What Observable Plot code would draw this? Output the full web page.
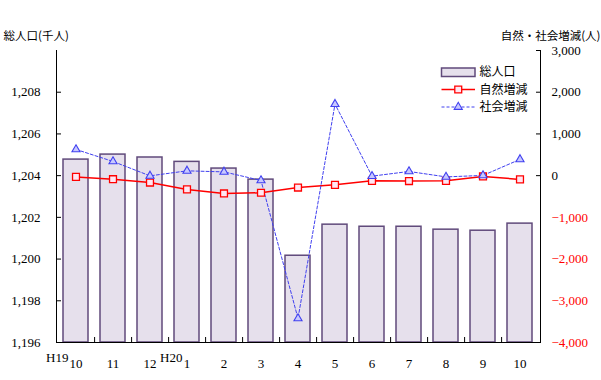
<!DOCTYPE html>
<html><head><meta charset="utf-8">
<script src="https://cdn.jsdelivr.net/npm/d3@7"></script>
<script src="https://cdn.jsdelivr.net/npm/@observablehq/plot@0.6"></script>
<style>body{margin:0;background:#fff} svg{display:block}</style>
</head><body><div id="chart"></div>
<script>
const months = ["10","11","12","1","2","3","4","5","6","7","8","9","10"];
const eras = ["H19","","","H20","","","","","","","","",""];
const totalPop = [1204.77,1205.01,1204.87,1204.66,1204.34,1203.81,1200.16,1201.65,1201.55,1201.55,1201.41,1201.36,1201.70];
const naturalChange = [-30,-85,-165,-330,-427,-410,-285,-220,-125,-130,-125,-20,-90];
const socialChange = [628,340,-5,115,90,-115,-3424,1715,-12,100,-30,5,390];
const leftTicks = [1196,1198,1200,1202,1204,1206,1208];
const rightTicks = [-4000,-3000,-2000,-1000,0,1000,2000,3000];
const leftTitle = "総人口(千人)";
const rightTitle = "自然・社会増減(人)";
const legendLabels = ["総人口","自然増減","社会増減"];

const idx = d3.range(months.length);
const y2 = d3.scaleLinear([-4000,3000],[1196,1210]);
const fmt = d3.format(",");
const jp = "'Noto Sans CJK JP', sans-serif";

const barFill = "#e6e0ec", barStroke = "#604a7b";
const natColor = "#ff0000", natFill = "#ffe6f2";
const socColor = "#4040f0", socFill = "#c8c8ff";
const triR = 3.0, sqR = 3.9;

const chart = Plot.plot({
  width: 601, height: 380,
  marginLeft: 56, marginRight: 61, marginTop: 50, marginBottom: 38,
  style: {fontFamily: "'Liberation Serif', 'Times New Roman', serif", fontSize: "13px", color: "#000", background: "#fff", overflow: "visible"},
  x: {type: "band", domain: idx, paddingInner: 0.32, paddingOuter: 0.16, axis: null},
  y: {domain: [1196, 1210], axis: null},
  marks: [
    Plot.barY(idx, {x: i => i, y1: 1196, y2: i => totalPop[i], fill: barFill, stroke: barStroke, strokeWidth: 1.5}),
    Plot.line(idx, {x: i => i, y: i => y2(naturalChange[i]), stroke: natColor, strokeWidth: 1.5}),
    Plot.line(idx, {x: i => i, y: i => y2(socialChange[i]), stroke: socColor, strokeWidth: 1, strokeDasharray: "3,2"}),
    Plot.dot(idx, {x: i => i, y: i => y2(naturalChange[i]), symbol: "square", r: sqR, stroke: natColor, fill: natFill, strokeWidth: 1.3}),
    Plot.dot(idx, {x: i => i, y: i => y2(socialChange[i]), symbol: "triangle", r: triR, stroke: socColor, fill: socFill, strokeWidth: 1.1}),
    // axis lines
    Plot.frame({anchor: "left", stroke: "#000"}),
    Plot.frame({anchor: "right", stroke: "#000"}),
    Plot.frame({anchor: "bottom", stroke: "#000"}),
    // left axis
    Plot.axisY(leftTicks, {anchor: "left", tickSize: -5, tickPadding: 21, tickFormat: fmt}),
    // right axis (non-negative black, negative red)
    Plot.axisY(rightTicks.filter(d => d >= 0), {anchor: "right", y: d => y2(d), tickSize: -5, tickPadding: 16, text: d => fmt(d)}),
    Plot.axisY(rightTicks.filter(d => d < 0), {anchor: "right", y: d => y2(d), tickSize: -5, tickPadding: 16, text: d => fmt(d), fill: natColor, stroke: null}),
    // x axis: labels at band centres, ticks at band boundaries
    Plot.axisX(idx, {anchor: "bottom", tickSize: 0, tickPadding: 16, tickFormat: i => months[i]}),
    Plot.axisX(idx.slice(0, -1), {anchor: "bottom", tickSize: -5, dx: 18.6, tickFormat: () => ""}),
    Plot.text(idx.filter(i => eras[i] && months[i].length === 2), {x: i => i, text: i => eras[i], frameAnchor: "bottom", lineAnchor: "bottom", textAnchor: "end", dx: -7.5, dy: 19}),
    Plot.text(idx.filter(i => eras[i] && months[i].length === 1), {x: i => i, text: i => eras[i], frameAnchor: "bottom", lineAnchor: "bottom", textAnchor: "end", dx: -4.5, dy: 19}),
    // axis titles
    Plot.text([leftTitle], {frameAnchor: "top-left", textAnchor: "start", lineAnchor: "bottom", dx: -53, dy: -11, fontFamily: jp, fontSize: 11.5}),
    Plot.text([rightTitle], {frameAnchor: "top-right", textAnchor: "end", lineAnchor: "bottom", dx: 60, dy: -11, fontFamily: jp, fontSize: 11.5})
  ]
});
document.getElementById("chart").appendChild(chart);

// legend inside the plot area
const svg = d3.select(chart);
const lg = svg.append("g").attr("font-family", jp).attr("font-size", 12).attr("text-anchor", "start");
const lx = 441.5, ly = [72, 89.5, 107];
lg.append("rect").attr("x", lx).attr("y", ly[0] - 4).attr("width", 33.5).attr("height", 8.5)
  .attr("fill", barFill).attr("stroke", barStroke).attr("stroke-width", 1.5);
lg.append("line").attr("x1", lx).attr("x2", lx + 33.5).attr("y1", ly[1]).attr("y2", ly[1]).attr("stroke", natColor).attr("stroke-width", 1.5);
lg.append("path").attr("d", d3.symbol(d3.symbolSquare, Math.PI * sqR * sqR)()).attr("transform", `translate(${lx + 16.75},${ly[1]})`)
  .attr("fill", natFill).attr("stroke", natColor).attr("stroke-width", 1.3);
lg.append("line").attr("x1", lx).attr("x2", lx + 33.5).attr("y1", ly[2]).attr("y2", ly[2]).attr("stroke", socColor).attr("stroke-dasharray", "3,2");
lg.append("path").attr("d", d3.symbol(d3.symbolTriangle, Math.PI * triR * triR)()).attr("transform", `translate(${lx + 16.75},${ly[2]})`)
  .attr("fill", socFill).attr("stroke", socColor).attr("stroke-width", 1.1);
legendLabels.forEach((t, k) => {
  lg.append("text").attr("x", lx + 38).attr("y", ly[k]).attr("dy", "0.35em").attr("text-anchor", "start").attr("fill", "#000").text(t);
});
</script>
</body></html>
